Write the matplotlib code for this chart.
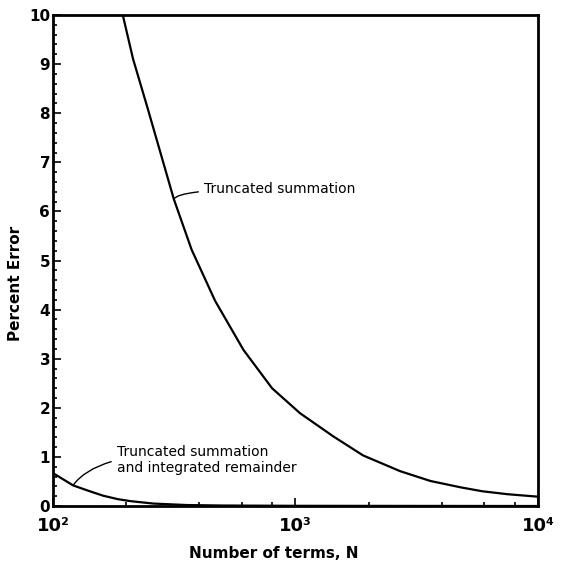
import matplotlib
matplotlib.use('Agg')
import matplotlib.pyplot as plt
from matplotlib.ticker import FixedLocator, NullFormatter

# Values
trunc_n = [194, 214, 245, 281, 315, 373, 466, 610, 800, 1044, 1430, 1900,
           2700, 3600, 4800, 5900, 7500, 10000]
trunc_err = [10.0, 9.10, 8.12, 7.10, 6.25, 5.22, 4.18, 3.18, 2.40, 1.89, 1.42, 1.03,
             0.71, 0.51, 0.38, 0.30, 0.24, 0.19]

remainder_n = [100, 121, 140, 161, 185, 208, 259, 356, 500, 1000, 10000]
remainder_err = [0.67, 0.42, 0.31, 0.21, 0.14, 0.10, 0.05, 0.02, 0.01, 0.004, 0.0]

x_major = [100, 1000, 10000]
x_major_labels = ['10²', '10³', '10⁴']
x_minor = [200, 400, 600, 800, 2000, 4000, 6000, 8000]
y_major = list(range(0, 11))

fig = plt.figure(figsize=(5.62, 5.65), dpi=100)
ax = fig.add_axes([0.0943, 0.1044, 0.863, 0.869])

ax.plot(trunc_n, trunc_err, color='black', lw=1.6)
ax.plot(remainder_n, remainder_err, color='black', lw=1.6)

ax.set_xscale('log')
ax.set_xlim(100, 10000)
ax.set_ylim(0, 10)

for s in ax.spines.values():
    s.set_linewidth(2)

ax.xaxis.set_major_locator(FixedLocator(x_major))
ax.set_xticklabels(x_major_labels, fontsize=13, fontweight='bold')
ax.xaxis.set_minor_locator(FixedLocator(x_minor))
ax.xaxis.set_minor_formatter(NullFormatter())
ax.set_yticks(y_major)
ax.set_yticklabels([str(v) for v in y_major], fontsize=11, fontweight='bold')
ax.yaxis.set_minor_locator(FixedLocator([i * 0.2 for i in range(51)]))

ax.tick_params(axis='both', which='both', direction='in', top=False, right=False, width=1.2)
ax.tick_params(axis='x', which='major', length=6, pad=8)
ax.tick_params(axis='x', which='minor', length=3)
ax.tick_params(axis='y', which='major', length=6, pad=2)
ax.tick_params(axis='y', which='minor', length=3)

# Curve labels with leader lines
ax.annotate('Truncated summation', xy=(trunc_n[4], trunc_err[4]), xytext=(419, 6.46),
            fontsize=10, ha='left', va='center',
            arrowprops=dict(arrowstyle='-', lw=1, color='black', shrinkA=2, shrinkB=0,
                            connectionstyle='angle3,angleA=0,angleB=65'))
ax.annotate('Truncated summation', xy=(remainder_n[1], remainder_err[1]), xytext=(183, 1.09),
            fontsize=10, ha='left', va='center',
            arrowprops=dict(arrowstyle='-', lw=1, color='black', shrinkA=2, shrinkB=0,
                            connectionstyle='angle3,angleA=0,angleB=55'))
ax.text(183, 0.78, 'and integrated remainder', fontsize=10, ha='left', va='center')

fig.text(274 / 562, 1 - 553 / 565, 'Number of terms, N', fontsize=11, fontweight='bold',
         ha='center', va='center')
fig.text(16 / 562, 1 - 283 / 565, 'Percent Error', fontsize=11, fontweight='bold',
         rotation=90, ha='center', va='center')

plt.savefig('out.png', dpi=100)
